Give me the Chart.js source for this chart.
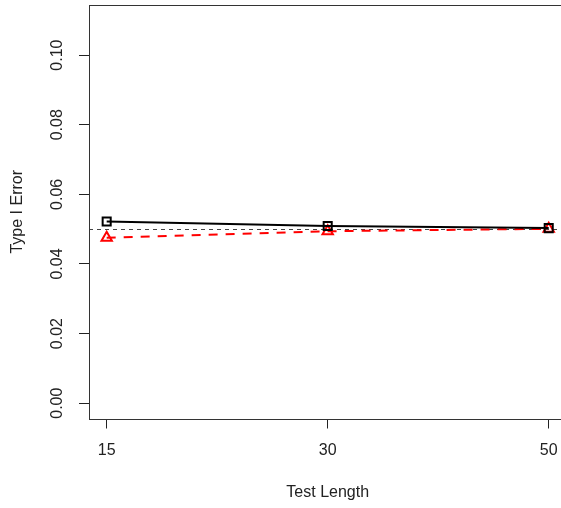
<!DOCTYPE html>
<html>
<head>
<meta charset="utf-8">
<script src="https://cdn.jsdelivr.net/npm/chart.js@4/dist/chart.umd.min.js"></script>
<style>
  html, body { margin: 0; padding: 0; background: #fff; overflow: hidden; }
  #wrap { width: 561px; height: 508px; overflow: hidden; }
</style>
</head>
<body>
<div id="wrap"><canvas id="chart" width="570" height="508"></canvas></div>
<script>
// data
const testLengths = ['15', '30', '50'];
const blackSeries = [0.0522, 0.0509, 0.0503];
const redSeries = [0.0475, 0.0494, 0.0501];
const yTicks = [0, 0.02, 0.04, 0.06, 0.08, 0.10];
const nominalAlpha = 0.05;

const FONT = '"Liberation Sans", Arial, sans-serif';
const TEXT = '#222';

function noPadding(s) {
    s.paddingLeft = 0;
    s.paddingRight = 0;
    s.paddingTop = 0;
    s.paddingBottom = 0;
}

const boxPlugin = {
    id: 'rbox',
    beforeDatasetsDraw(chart) {
        const ctx = chart.ctx;
        const a = chart.chartArea;
        const y = chart.scales.y;
        // dashed reference line (abline)
        const yy = Math.round(y.getPixelForValue(nominalAlpha)) + 0.5;
        ctx.save();
        ctx.strokeStyle = '#444';
        ctx.lineWidth = 1;
        ctx.setLineDash([4, 4]);
        ctx.beginPath();
        ctx.moveTo(a.left, yy);
        ctx.lineTo(a.right, yy);
        ctx.stroke();
        ctx.restore();
    },
    afterDraw(chart) {
        const ctx = chart.ctx;
        const a = chart.chartArea;
        const x = chart.scales.x;
        const y = chart.scales.y;
        ctx.save();
        ctx.strokeStyle = '#333';
        ctx.lineWidth = 1;
        ctx.strokeRect(Math.round(a.left) + 0.5, Math.round(a.top) + 0.5,
            Math.round(a.right - a.left), Math.round(a.bottom - a.top));

        ctx.fillStyle = TEXT;
        ctx.font = '16px ' + FONT;
        ctx.textAlign = 'center';
        ctx.textBaseline = 'middle';
        // x tick labels
        testLengths.forEach((t, i) => {
            ctx.fillText(t, x.getPixelForValue(i + 1), 451);
        });
        // rotated y tick labels
        yTicks.forEach(v => {
            ctx.save();
            ctx.translate(58, y.getPixelForValue(v));
            ctx.rotate(-Math.PI / 2);
            ctx.fillText(v.toFixed(2), 0, 0);
            ctx.restore();
        });
        // axis titles
        ctx.save();
        ctx.translate(18, (a.top + a.bottom) / 2);
        ctx.rotate(-Math.PI / 2);
        ctx.fillText('Type I Error', 0, 0);
        ctx.restore();
        ctx.fillText('Test Length', (a.left + a.right) / 2, 493);
        ctx.restore();
    }
};

new Chart(document.getElementById('chart'), {
    type: 'line',
    data: {
        datasets: [{
            data: blackSeries.map((v, i) => ({ x: i + 1, y: v })),
            borderColor: '#000',
            borderWidth: 2,
            pointStyle: 'rect',
            pointRadius: 5.7,
            pointBorderWidth: 2,
            pointBorderColor: '#000',
            pointBackgroundColor: 'rgba(0,0,0,0)',
            fill: false
        }, {
            data: redSeries.map((v, i) => ({ x: i + 1, y: v })),
            borderColor: '#ff0000',
            borderWidth: 2,
            borderDash: [9, 8],
            pointStyle: 'triangle',
            pointRadius: 6,
            pointBorderWidth: 2,
            pointBorderColor: '#ff0000',
            pointBackgroundColor: 'rgba(0,0,0,0)',
            fill: false
        }]
    },
    options: {
        responsive: false,
        animation: false,
        layout: { autoPadding: false, padding: { top: 5, right: 3.6, left: 0, bottom: 0 } },
        plugins: { legend: { display: false }, tooltip: { enabled: false } },
        scales: {
            x: {
                type: 'linear',
                min: 0.92,
                max: 3.08,
                afterBuildTicks: s => { s.ticks = testLengths.map((t, i) => ({ value: i + 1 })); },
                afterFit: s => { s.height = 89.5; noPadding(s); },
                ticks: { display: false },
                grid: { drawOnChartArea: false, drawTicks: true, tickLength: 10, tickColor: '#222' },
                border: { display: false }
            },
            y: {
                min: -0.0044,
                max: 0.1144,
                afterBuildTicks: s => { s.ticks = yTicks.map(v => ({ value: v })); },
                afterFit: s => { s.width = 89; noPadding(s); },
                ticks: { display: false },
                grid: { drawOnChartArea: false, drawTicks: true, tickLength: 10, tickColor: '#222' },
                border: { display: false }
            }
        }
    },
    plugins: [boxPlugin]
});
</script>
</body>
</html>
